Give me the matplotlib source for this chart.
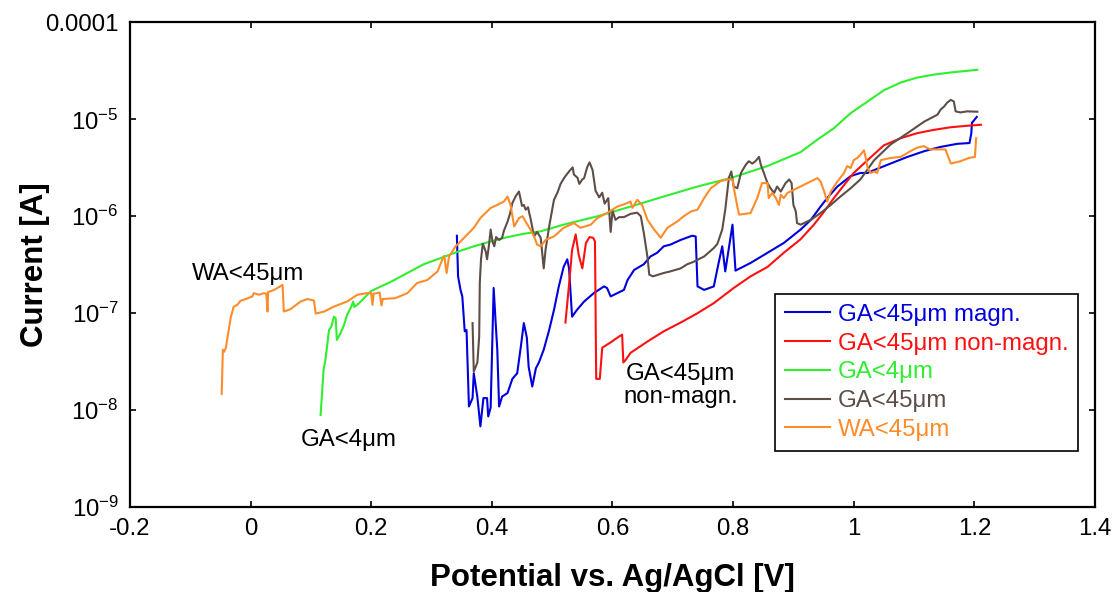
import matplotlib
matplotlib.use('Agg')
import matplotlib.pyplot as plt
from matplotlib.ticker import FixedLocator, FixedFormatter, NullLocator

plt.rcParams['font.family'] = ['Liberation Sans', 'DejaVu Sans']
plt.rcParams['mathtext.fontset'] = 'custom'
plt.rcParams['mathtext.rm'] = 'Liberation Sans'
plt.rcParams['mathtext.it'] = 'Liberation Sans:italic'
plt.rcParams['mathtext.bf'] = 'Liberation Sans:bold'
plt.rcParams['axes.unicode_minus'] = False

# ---------------- data (potential V, current A) ----------------
ga45_magn = [
    (0.342, 6.3e-7), (0.344, 2.4e-7), (0.348, 1.74e-7), (0.351, 1.49e-7), (0.355, 6.5e-8),
    (0.358, 6.7e-8), (0.362, 1.09e-8), (0.368, 1.33e-8), (0.370, 2.4e-8), (0.376, 1.36e-8),
    (0.381, 6.8e-9), (0.386, 1.33e-8), (0.392, 1.33e-8), (0.394, 8.6e-9), (0.398, 1.06e-8),
    (0.403, 1.82e-7), (0.406, 8.6e-8), (0.409, 4.2e-8), (0.412, 1.09e-8), (0.417, 1.38e-8),
    (0.426, 1.5e-8), (0.434, 2.1e-8), (0.442, 2.4e-8), (0.448, 4.5e-8), (0.453, 7.9e-8),
    (0.458, 5.6e-8), (0.461, 2.8e-8), (0.467, 1.75e-8), (0.473, 2.7e-8), (0.478, 3.1e-8),
    (0.486, 4.2e-8), (0.495, 6.7e-8), (0.503, 1.08e-7), (0.511, 1.89e-7), (0.519, 3.0e-7),
    (0.525, 3.6e-7), (0.528, 2.9e-7), (0.533, 9.2e-8), (0.541, 1.08e-7), (0.553, 1.32e-7),
    (0.569, 1.61e-7), (0.586, 1.89e-7), (0.591, 1.82e-7), (0.597, 1.49e-7), (0.608, 1.61e-7),
    (0.619, 1.74e-7), (0.625, 2.2e-7), (0.636, 2.8e-7), (0.652, 3.2e-7), (0.663, 3.85e-7),
    (0.674, 4.2e-7), (0.685, 4.9e-7), (0.696, 5.1e-7), (0.713, 5.7e-7), (0.732, 6.3e-7),
    (0.738, 6.2e-7), (0.741, 1.89e-7), (0.752, 1.74e-7), (0.768, 1.89e-7), (0.776, 3.3e-7),
    (0.782, 4.9e-7), (0.787, 2.7e-7), (0.799, 8.2e-7), (0.804, 2.75e-7), (0.829, 3.3e-7),
    (0.857, 4.2e-7), (0.884, 5.3e-7), (0.912, 7.3e-7), (0.929, 9.2e-7), (0.945, 1.26e-6),
    (0.956, 1.54e-6), (0.973, 2.03e-6), (0.995, 2.6e-6), (1.011, 2.8e-6), (1.023, 2.8e-6),
    (1.034, 3.0e-6), (1.061, 3.5e-6), (1.089, 4.1e-6), (1.117, 4.7e-6), (1.144, 5.2e-6),
    (1.172, 5.6e-6), (1.192, 5.7e-6), (1.195, 7.2e-6), (1.196, 9.2e-6), (1.204, 1.06e-5),
]

ga45_nonmagn = [
    (0.522, 8.0e-8), (0.529, 2.3e-7), (0.533, 4.5e-7), (0.539, 6.5e-7), (0.544, 4.0e-7),
    (0.550, 2.9e-7), (0.556, 5.3e-7), (0.562, 6.1e-7), (0.568, 6.0e-7), (0.571, 5.5e-7),
    (0.573, 2.1e-8), (0.579, 2.1e-8), (0.583, 4.4e-8), (0.597, 5.0e-8), (0.611, 5.75e-8),
    (0.616, 6.0e-8), (0.618, 3.1e-8), (0.622, 3.3e-8), (0.630, 3.9e-8), (0.658, 5.1e-8),
    (0.685, 6.5e-8), (0.713, 8.0e-8), (0.741, 1.0e-7), (0.768, 1.27e-7), (0.801, 1.82e-7),
    (0.829, 2.4e-7), (0.857, 3.0e-7), (0.884, 4.2e-7), (0.912, 5.8e-7), (0.934, 8.2e-7),
    (0.951, 1.12e-6), (0.967, 1.54e-6), (0.984, 2.1e-6), (1.000, 2.8e-6), (1.023, 3.8e-6),
    (1.050, 5.4e-6), (1.078, 6.4e-6), (1.105, 7.2e-6), (1.133, 7.8e-6), (1.161, 8.3e-6),
    (1.189, 8.6e-6), (1.211, 8.8e-6),
]

ga4 = [
    (0.116, 8.9e-9), (0.121, 2.6e-8), (0.124, 3.3e-8), (0.130, 6.7e-8), (0.134, 7.3e-8),
    (0.138, 9.2e-8), (0.141, 8.9e-8), (0.143, 5.3e-8), (0.149, 6.2e-8), (0.155, 7.6e-8),
    (0.160, 9.6e-8), (0.167, 1.17e-7), (0.170, 1.32e-7), (0.172, 1.16e-7), (0.180, 1.27e-7),
    (0.191, 1.49e-7), (0.199, 1.68e-7), (0.216, 1.89e-7), (0.232, 2.1e-7), (0.260, 2.6e-7),
    (0.287, 3.2e-7), (0.315, 3.7e-7), (0.343, 4.3e-7), (0.370, 4.9e-7), (0.398, 5.5e-7),
    (0.426, 6.1e-7), (0.453, 6.6e-7), (0.481, 7.0e-7), (0.519, 8.2e-7), (0.575, 1.0e-6),
    (0.630, 1.26e-6), (0.685, 1.6e-6), (0.741, 2.03e-6), (0.796, 2.48e-6), (0.857, 3.3e-6),
    (0.912, 4.6e-6), (0.940, 6.2e-6), (0.967, 8.1e-6), (0.995, 1.16e-5), (1.023, 1.53e-5),
    (1.050, 2.0e-5), (1.078, 2.4e-5), (1.105, 2.7e-5), (1.133, 2.9e-5), (1.161, 3.05e-5),
    (1.205, 3.25e-5),
]

ga45 = [
    (0.368, 7.9e-8), (0.370, 2.5e-8), (0.376, 3.1e-8), (0.379, 5.75e-8), (0.380, 2.05e-7),
    (0.382, 3.6e-7), (0.385, 5.2e-7), (0.390, 4.3e-7), (0.392, 3.6e-7), (0.395, 4.9e-7),
    (0.398, 7.3e-7), (0.401, 5.5e-7), (0.404, 4.9e-7), (0.407, 6.1e-7), (0.412, 5.7e-7),
    (0.417, 6.0e-7), (0.420, 7.1e-7), (0.426, 8.8e-7), (0.430, 1.06e-6), (0.434, 1.37e-6),
    (0.440, 1.63e-6), (0.445, 1.8e-6), (0.450, 1.28e-6), (0.453, 1.31e-6), (0.456, 1.17e-6),
    (0.460, 1.24e-6), (0.462, 1.08e-6), (0.464, 9.6e-7), (0.470, 6.2e-7), (0.475, 6.9e-7),
    (0.481, 6.0e-7), (0.486, 2.9e-7), (0.489, 4.5e-7), (0.495, 7.85e-7), (0.503, 1.48e-6),
    (0.509, 1.77e-6), (0.514, 2.16e-6), (0.520, 2.5e-6), (0.528, 2.9e-6), (0.534, 3.2e-6),
    (0.536, 2.7e-6), (0.542, 2.5e-6), (0.545, 2.16e-6), (0.550, 2.4e-6), (0.553, 2.48e-6),
    (0.558, 3.2e-6), (0.562, 3.6e-6), (0.567, 3.0e-6), (0.572, 1.83e-6), (0.578, 1.57e-6),
    (0.583, 1.75e-6), (0.587, 1.35e-6), (0.593, 1.54e-6), (0.597, 6.9e-7), (0.600, 1.14e-6),
    (0.605, 9.2e-7), (0.611, 9.8e-7), (0.619, 9.8e-7), (0.630, 1.06e-6), (0.641, 1.09e-6),
    (0.647, 1.0e-6), (0.652, 6.7e-7), (0.658, 3.8e-7), (0.661, 2.5e-7), (0.667, 2.4e-7),
    (0.685, 2.6e-7), (0.696, 2.7e-7), (0.713, 2.9e-7), (0.724, 3.2e-7), (0.735, 3.4e-7),
    (0.752, 3.85e-7), (0.768, 4.7e-7), (0.774, 5.2e-7), (0.782, 7.3e-7), (0.787, 1.17e-6),
    (0.793, 2.5e-6), (0.797, 2.9e-6), (0.801, 2.03e-6), (0.807, 1.95e-6), (0.813, 2.8e-6),
    (0.821, 3.4e-6), (0.826, 3.7e-6), (0.832, 3.5e-6), (0.837, 3.7e-6), (0.843, 4.1e-6),
    (0.846, 3.4e-6), (0.851, 2.8e-6), (0.857, 2.2e-6), (0.862, 1.95e-6), (0.868, 1.74e-6),
    (0.873, 2.03e-6), (0.879, 1.8e-6), (0.887, 2.2e-6), (0.893, 2.4e-6), (0.897, 2.2e-6),
    (0.900, 1.31e-6), (0.904, 1.12e-6), (0.906, 8.5e-7), (0.912, 8.2e-7), (0.929, 9.2e-7),
    (0.945, 1.08e-6), (0.962, 1.31e-6), (0.978, 1.6e-6), (0.995, 1.95e-6), (1.011, 2.4e-6),
    (1.034, 3.8e-6), (1.061, 5.5e-6), (1.089, 7.2e-6), (1.117, 9.5e-6), (1.139, 1.12e-5),
    (1.144, 1.26e-5), (1.150, 1.36e-5), (1.155, 1.49e-5), (1.161, 1.59e-5), (1.166, 1.53e-5),
    (1.169, 1.21e-5), (1.177, 1.18e-5), (1.188, 1.21e-5), (1.205, 1.2e-5),
]

wa45 = [
    (-0.048, 1.47e-8), (-0.046, 4.2e-8), (-0.044, 4.0e-8), (-0.041, 4.4e-8), (-0.039, 5.3e-8),
    (-0.033, 9.0e-8), (-0.028, 1.17e-7), (-0.022, 1.22e-7), (-0.017, 1.34e-7), (-0.008, 1.40e-7),
    (0.003, 1.49e-7), (0.005, 1.61e-7), (0.014, 1.55e-7), (0.022, 1.61e-7), (0.026, 1.59e-7),
    (0.028, 1.04e-7), (0.029, 1.65e-7), (0.039, 1.74e-7), (0.053, 1.96e-7), (0.055, 1.04e-7),
    (0.066, 1.10e-7), (0.083, 1.32e-7), (0.094, 1.40e-7), (0.105, 1.35e-7), (0.108, 9.9e-8),
    (0.122, 1.04e-7), (0.138, 1.17e-7), (0.160, 1.32e-7), (0.177, 1.55e-7), (0.193, 1.61e-7),
    (0.200, 1.61e-7), (0.202, 1.22e-7), (0.204, 1.59e-7), (0.214, 1.63e-7), (0.217, 1.20e-7),
    (0.219, 1.40e-7), (0.240, 1.43e-7), (0.260, 1.61e-7), (0.276, 2.05e-7), (0.293, 2.2e-7),
    (0.310, 2.7e-7), (0.318, 3.6e-7), (0.321, 3.9e-7), (0.325, 2.6e-7), (0.329, 3.85e-7),
    (0.340, 4.9e-7), (0.354, 6.0e-7), (0.370, 7.6e-7), (0.381, 9.6e-7), (0.398, 1.22e-6),
    (0.409, 1.31e-6), (0.420, 1.42e-6), (0.426, 1.6e-6), (0.431, 1.31e-6), (0.437, 7.85e-7),
    (0.445, 9.6e-7), (0.451, 1.0e-6), (0.456, 8.8e-7), (0.464, 7.3e-7), (0.470, 6.2e-7),
    (0.475, 5.1e-7), (0.481, 4.9e-7), (0.489, 5.7e-7), (0.503, 6.2e-7), (0.519, 7.6e-7),
    (0.536, 8.5e-7), (0.547, 7.6e-7), (0.564, 8.2e-7), (0.575, 9.6e-7), (0.591, 1.08e-6),
    (0.608, 1.26e-6), (0.625, 1.37e-6), (0.630, 1.42e-6), (0.633, 1.22e-6), (0.641, 1.48e-6),
    (0.649, 1.31e-6), (0.658, 9.2e-7), (0.669, 7.3e-7), (0.680, 6.0e-7), (0.691, 7.6e-7),
    (0.707, 8.8e-7), (0.718, 1.0e-6), (0.730, 1.12e-6), (0.741, 1.17e-6), (0.752, 1.54e-6),
    (0.763, 1.95e-6), (0.779, 2.3e-6), (0.790, 2.4e-6), (0.799, 2.4e-6), (0.801, 2.0e-6),
    (0.807, 1.26e-6), (0.810, 1.04e-6), (0.829, 1.08e-6), (0.840, 1.54e-6), (0.848, 2.2e-6),
    (0.857, 2.2e-6), (0.859, 1.54e-6), (0.865, 1.74e-6), (0.871, 1.54e-6), (0.876, 1.31e-6),
    (0.879, 1.67e-6), (0.884, 1.54e-6), (0.890, 1.74e-6), (0.901, 1.88e-6), (0.912, 2.03e-6),
    (0.929, 2.29e-6), (0.940, 2.48e-6), (0.945, 2.29e-6), (0.951, 1.8e-6), (0.956, 1.42e-6),
    (0.962, 1.8e-6), (0.973, 2.29e-6), (0.984, 2.8e-6), (0.989, 3.3e-6), (0.995, 3.15e-6),
    (1.000, 3.8e-6), (1.006, 4.0e-6), (1.011, 4.3e-6), (1.017, 4.8e-6), (1.020, 4.0e-6),
    (1.023, 3.15e-6), (1.028, 2.8e-6), (1.034, 2.9e-6), (1.039, 2.8e-6), (1.045, 3.8e-6),
    (1.061, 4.0e-6), (1.078, 4.1e-6), (1.094, 4.7e-6), (1.105, 5.1e-6), (1.116, 5.3e-6),
    (1.127, 4.9e-6), (1.152, 4.9e-6), (1.161, 3.5e-6), (1.177, 3.7e-6), (1.191, 4.0e-6),
    (1.201, 4.1e-6), (1.203, 6.4e-6),
]

series_labels = ['GA<45μm magn.', 'GA<45μm non-magn.', 'GA<4μm', 'GA<45μm', 'WA<45μm']
series_colors = ['#0000dd', '#ff1010', '#30ee30', '#5e4e48', '#ff8c2a']
series_data = [ga45_magn, ga45_nonmagn, ga4, ga45, wa45]

x_ticks = [-0.2, 0, 0.2, 0.4, 0.6, 0.8, 1, 1.2, 1.4]
x_ticklabels = ['-0.2', '0', '0.2', '0.4', '0.6', '0.8', '1', '1.2', '1.4']
y_ticks = [1e-9, 1e-8, 1e-7, 1e-6, 1e-5, 1e-4]
y_ticklabels = [r'$10^{-9}$', r'$10^{-8}$', r'$10^{-7}$', r'$10^{-6}$', r'$10^{-5}$', '0.0001']

annotations = [
    ('WA<45μm', -0.005, 2.55e-7),
    ('GA<4μm', 0.163, 4.9e-9),
    ('GA<45μm\nnon-magn.', 0.713, 1.8e-8),
]

# ---------------- figure ----------------
fig = plt.figure(figsize=(11.14, 5.92), dpi=100)
ax = fig.add_axes([0.1167, 0.1436, 0.8662, 0.8184])

for data, lab, col in zip(series_data, series_labels, series_colors):
    xs = [p[0] for p in data]
    ys = [p[1] for p in data]
    ax.plot(xs, ys, color=col, lw=1.5, label=lab)

ax.set_yscale('log')
ax.set_xlim(-0.2, 1.4)
ax.set_ylim(1e-9, 1e-4)

ax.xaxis.set_major_locator(FixedLocator(x_ticks))
ax.xaxis.set_major_formatter(FixedFormatter(x_ticklabels))
ax.yaxis.set_major_locator(FixedLocator(y_ticks))
ax.yaxis.set_major_formatter(FixedFormatter(y_ticklabels))
ax.yaxis.set_minor_locator(NullLocator())
ax.xaxis.set_minor_locator(NullLocator())

ax.tick_params(which='major', direction='in', top=True, right=True,
               length=4.5, width=1.2, labelsize=17.3, pad=8, colors='black')
for s in ax.spines.values():
    s.set_linewidth(1.6)

ax.set_xlabel('Potential vs. Ag/AgCl [V]', fontsize=22.5, fontweight='bold')
ax.xaxis.set_label_coords(0.5, -0.115)
ax.xaxis.label.set_va('top')
ax.set_ylabel('Current [A]', fontsize=22.5, fontweight='bold')
ax.yaxis.set_label_coords(-0.083, 0.5)

for txt, xv, yv in annotations:
    ax.text(xv, yv, txt, fontsize=17.3, ha='center', va='center',
            linespacing=1.05, color='black')

leg = ax.legend(loc='upper left', bbox_to_anchor=(0.668, 0.44), borderaxespad=0,
                fontsize=17.3, frameon=True, fancybox=False, edgecolor='black',
                framealpha=1, handlelength=1.9, handletextpad=0.3,
                labelspacing=0.28, borderpad=0.42, labelcolor='linecolor')
leg.get_frame().set_linewidth(1.2)

fig.savefig('out.png', dpi=100, facecolor='white')
